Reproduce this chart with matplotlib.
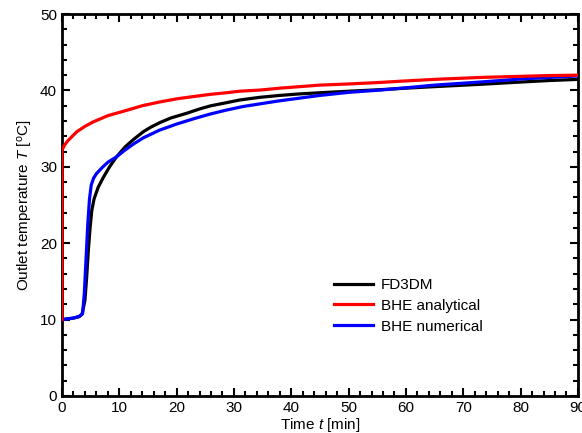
import matplotlib
matplotlib.use("Agg")
import matplotlib.pyplot as plt
from matplotlib.ticker import MultipleLocator

plt.rcParams['font.family'] = ['Liberation Sans', 'DejaVu Sans']
plt.rcParams['mathtext.fontset'] = 'custom'
plt.rcParams['mathtext.rm'] = 'Liberation Sans'
plt.rcParams['mathtext.it'] = 'Liberation Sans:italic'

# FD3DM
t_fd = [0, 1, 2, 3, 3.5, 4.0, 4.3, 4.6, 4.9, 5.2, 5.6, 6.3, 7.2, 8.3, 9.5, 11, 12.5, 14.2,
        15.5, 17.1, 19, 21.7, 24.1, 26, 28.7, 31, 34.5, 38, 41.5, 45, 50, 55.5, 60, 65,
        72.9, 80, 85, 90]
T_fd = [10.0, 10.1, 10.2, 10.4, 10.7, 12.5, 15.5, 19.1, 22.0, 24.3, 25.8, 27.3, 28.6, 30.0,
        31.3, 32.6, 33.6, 34.6, 35.2, 35.8, 36.4, 37.0, 37.6, 38.0, 38.4, 38.75, 39.1, 39.35,
        39.55, 39.7, 39.9, 40.1, 40.3, 40.5, 40.8, 41.1, 41.3, 41.45]

# BHE analytical
t_an = [0, 0, 0.5, 1, 2.6, 4, 5.5, 8, 11.3, 14, 17.1, 20, 22.9, 26, 28.7, 31, 34.5, 38,
        41.5, 45, 50, 55.5, 60, 65, 72.9, 80, 85, 90]
T_an = [10, 32.2, 32.9, 33.4, 34.6, 35.3, 35.9, 36.7, 37.4, 38.0, 38.5, 38.9, 39.2, 39.5,
        39.7, 39.9, 40.05, 40.3, 40.5, 40.7, 40.85, 41.05, 41.25, 41.45, 41.7, 41.85, 41.95,
        42.0]

# BHE numerical
t_nu = [0, 1, 2, 3, 3.6, 3.9, 4.2, 4.5, 4.8, 5.1, 5.5, 6.0, 7.0, 8.0, 9.5, 11, 12.5, 14.2,
        17, 20, 23, 25.8, 28.5, 31.6, 35, 38, 41.5, 45, 50, 55.5, 60, 65, 72.9, 80, 85, 90]
T_nu = [10.0, 10.1, 10.2, 10.4, 10.8, 13.5, 18.0, 22.5, 25.8, 27.6, 28.5, 29.1, 29.9, 30.6,
        31.3, 32.2, 33.0, 33.8, 34.8, 35.6, 36.3, 36.9, 37.4, 37.9, 38.3, 38.65, 39.0, 39.35,
        39.75, 40.05, 40.35, 40.7, 41.1, 41.5, 41.7, 41.9]

fig = plt.figure(figsize=(5.82, 4.33), dpi=100)
ax = fig.add_axes([0.1065, 0.0855, 0.8865, 0.882])

ax.plot(t_fd, T_fd, color='black', lw=2.3, label='FD3DM')
ax.plot(t_an, T_an, color='#ff0000', lw=2.3, label='BHE analytical', zorder=4)
ax.plot(t_nu, T_nu, color='#0000ff', lw=2.3, label='BHE numerical', zorder=3)

ax.set_xlim(0, 90)
ax.set_ylim(0, 50)
ax.xaxis.set_major_locator(MultipleLocator(10))
ax.xaxis.set_minor_locator(MultipleLocator(2))
ax.yaxis.set_major_locator(MultipleLocator(10))
ax.yaxis.set_minor_locator(MultipleLocator(2))
ax.tick_params(which='both', direction='in', top=True, right=True, width=1.5,
               labelsize=11, colors='black')
ax.tick_params(which='major', length=6)
ax.tick_params(which='minor', length=3.5)
for s in ax.spines.values():
    s.set_linewidth(2)

ax.set_xlabel(r'Time $t$ [min]', fontsize=11, labelpad=1)
ax.set_ylabel(r'Outlet temperature $T$ [$^{\mathrm{o}}$C]', fontsize=11, labelpad=4)

ax.legend(loc='upper left', bbox_to_anchor=(0.5, 0.345), frameon=False, fontsize=11,
          handlelength=2.6, handletextpad=0.5, labelspacing=0.45)

fig.savefig('out.png', dpi=100)
